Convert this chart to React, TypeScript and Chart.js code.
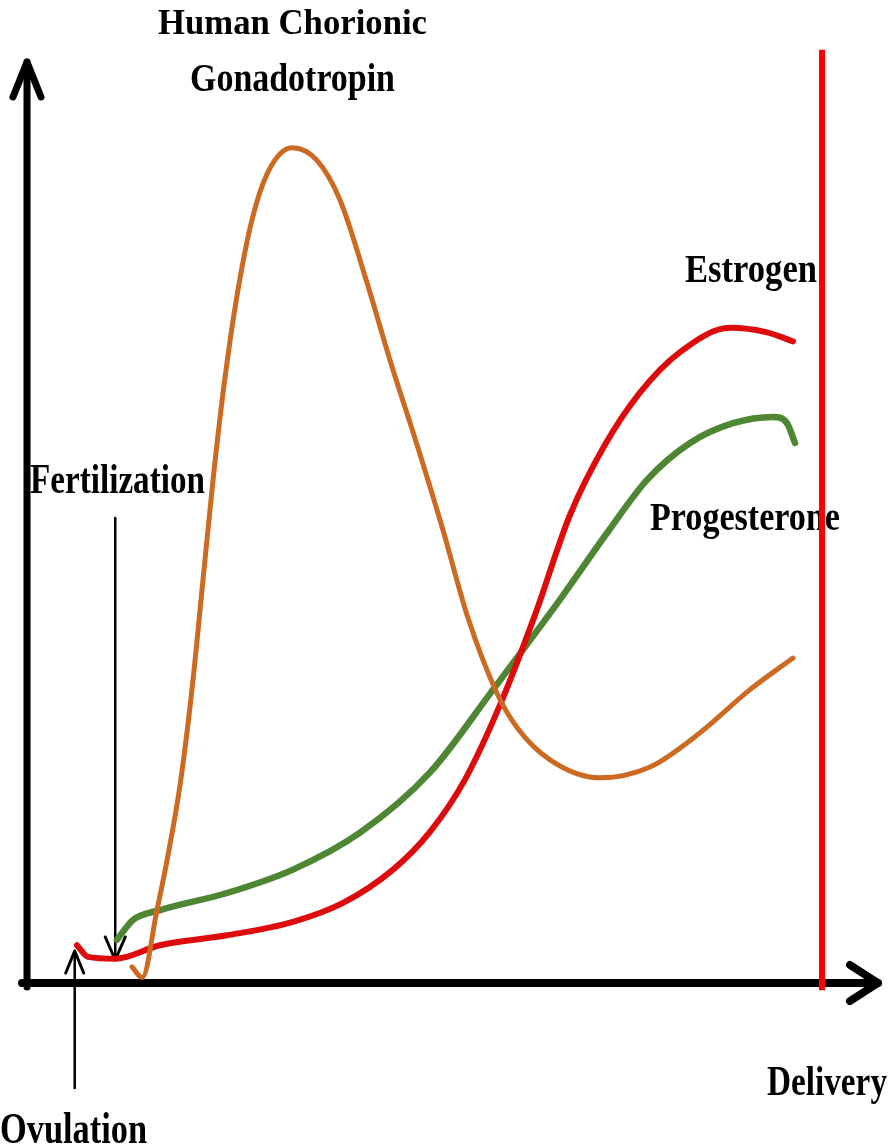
import React, { useEffect, useRef } from "react";
import { Chart, registerables } from "chart.js";

Chart.register(...registerables);

// Time axis (arbitrary 0..100, 100 = delivery) and relative hormone level (0..100)
const hcgX = [13.2, 14.5, 16.35, 17.74, 19.25, 20.75, 22.14, 23.4, 24.78, 26.42, 28.3, 30.31, 33.33, 36.48, 39.37, 42.77, 45.66, 49.06, 52.33, 55.35, 59.12, 61.64, 65.79, 72.08, 78.36, 84.65, 90.94, 96.35];
const hcgY = [1.8, 0.6, 8.1, 14.2, 22.0, 32.6, 44.8, 55.9, 66.4, 76.4, 84.8, 90.1, 92.8, 91.4, 87.0, 77.8, 69.2, 59.8, 50.3, 40.9, 32.2, 28.4, 24.8, 22.8, 24.0, 27.8, 32.6, 36.1];

const estrogenX = [6.29, 7.67, 11.07, 16.73, 25.16, 33.46, 39.75, 46.04, 50.69, 55.09, 59.5, 63.9, 68.3, 72.7, 77.1, 82.14, 88.43, 93.08, 96.35];
const estrogenY = [4.2, 2.9, 2.7, 4.2, 5.3, 6.8, 8.9, 12.6, 16.8, 22.6, 30.9, 40.9, 52.0, 59.8, 65.6, 70.1, 72.8, 72.3, 71.3];

const progesteroneX = [11.32, 13.33, 16.73, 25.16, 33.46, 41.89, 50.69, 58.62, 67.04, 72.96, 77.99, 83.4, 88.81, 93.84, 95.6, 96.6];
const progesteroneY = [4.8, 7.0, 8.1, 10.0, 12.6, 16.7, 23.4, 32.6, 42.6, 50.0, 55.9, 60.0, 62.2, 62.9, 62.2, 60.0];

const deliveryX = [100, 100];
const deliveryY = [-0.8, 103.7];

const seriesNames = ["Human Chorionic Gonadotropin", "Estrogen", "Progesterone", "Delivery"];
const annotationTexts = ["Human Chorionic", "Gonadotropin", "Fertilization", "Estrogen", "Progesterone", "Ovulation", "Delivery"];

const toPoints = (xs: number[], ys: number[]) => xs.map((x, i) => ({ x, y: ys[i] }));

// label placement: [left, right, baseline, capHeight]
const LABEL_POS: number[][] = [
  [158, 427, 34, 24],
  [190, 395, 91, 26],
  [30, 205, 493, 28],
  [685, 817, 282, 27],
  [650, 840, 530, 27],
  [0, 147, 1143, 30],
  [767, 887, 1095, 28],
];

function drawLabel(ctx: CanvasRenderingContext2D, text: string, left: number, right: number, baseline: number, cap: number) {
  const size = cap / 0.662;
  ctx.save();
  ctx.font = `bold ${size}px "Liberation Serif", "Times New Roman", serif`;
  ctx.textAlign = "left";
  ctx.textBaseline = "alphabetic";
  const w = ctx.measureText(text).width;
  const sx = (right - left) / w;
  ctx.translate(left, baseline);
  ctx.scale(sx, 1);
  ctx.fillStyle = "#000";
  ctx.fillText(text, 0, 0);
  ctx.restore();
}

function polyline(ctx: CanvasRenderingContext2D, pts: number[][], width: number) {
  ctx.beginPath();
  ctx.lineWidth = width;
  pts.forEach((p, i) => (i === 0 ? ctx.moveTo(p[0], p[1]) : ctx.lineTo(p[0], p[1])));
  ctx.stroke();
}

const decorPlugin = {
  id: "decor",
  beforeDatasetsDraw(chart: any) {
    const ctx: CanvasRenderingContext2D = chart.ctx;
    const { left, bottom } = chart.chartArea;
    const xs = chart.scales.x;
    ctx.save();
    ctx.strokeStyle = "#000";
    ctx.lineCap = "round";
    ctx.lineJoin = "round";
    // y axis
    polyline(ctx, [[left, bottom + 4], [left, 62]], 7);
    polyline(ctx, [[left - 14, 97], [left, 62], [left + 14, 97]], 7);
    // x axis
    polyline(ctx, [[left - 5, bottom], [878, bottom]], 8);
    polyline(ctx, [[850, bottom - 18], [878, bottom], [850, bottom + 18]], 8);
    // fertilization arrow
    const fx = xs.getPixelForValue(11.1);
    polyline(ctx, [[fx, 518], [fx, 958]], 2.5);
    polyline(ctx, [[fx - 10, 937], [fx, 960], [fx + 10, 937]], 3);
    // ovulation arrow
    const ox = xs.getPixelForValue(6.0);
    polyline(ctx, [[ox, 1088], [ox, 952]], 2.5);
    polyline(ctx, [[ox - 9, 973], [ox, 951], [ox + 9, 973]], 3);
    ctx.restore();
    annotationTexts.forEach((t, i) => {
      const p = LABEL_POS[i];
      drawLabel(ctx, t, p[0], p[1], p[2], p[3]);
    });
  },
};

export default function App() {
  const ref = useRef<HTMLCanvasElement | null>(null);
  useEffect(() => {
    if (!ref.current) return;
    const chart = new Chart(ref.current, {
      type: "line",
      data: {
        datasets: [
          {
            label: seriesNames[3],
            data: toPoints(deliveryX, deliveryY),
            borderColor: "#ff0000",
            borderWidth: 6,
            pointRadius: 0,
            tension: 0,
            clip: false as any,
            order: 0,
          },
          {
            label: seriesNames[0],
            data: toPoints(hcgX, hcgY),
            borderColor: "#cc6a22",
            borderWidth: 5,
            pointRadius: 0,
            cubicInterpolationMode: "monotone",
            borderCapStyle: "round",
            order: 1,
          },
          {
            label: seriesNames[1],
            data: toPoints(estrogenX, estrogenY),
            borderColor: "#dd0b0b",
            borderWidth: 6,
            pointRadius: 0,
            cubicInterpolationMode: "monotone",
            borderCapStyle: "round",
            order: 2,
          },
          {
            label: seriesNames[2],
            data: toPoints(progesteroneX, progesteroneY),
            borderColor: "#4f8633",
            borderWidth: 6.5,
            pointRadius: 0,
            cubicInterpolationMode: "monotone",
            borderCapStyle: "round",
            order: 3,
          },
        ],
      },
      options: {
        animation: false,
        responsive: false,
        maintainAspectRatio: false,
        layout: { padding: { left: 27, right: 72, top: 83, bottom: 165 } },
        scales: {
          x: { type: "linear", min: 0, max: 100, display: false },
          y: { type: "linear", min: 0, max: 100, display: false },
        },
        plugins: { legend: { display: false }, tooltip: { enabled: false } },
      },
      plugins: [decorPlugin],
    });
    return () => chart.destroy();
  }, []);
  return (
    <div style={{ position: "fixed", left: 0, top: 0, width: 894, height: 1148, background: "#fff" }}>
      <canvas ref={ref} width={894} height={1148} style={{ width: 894, height: 1148, display: "block" }} />
    </div>
  );
}
